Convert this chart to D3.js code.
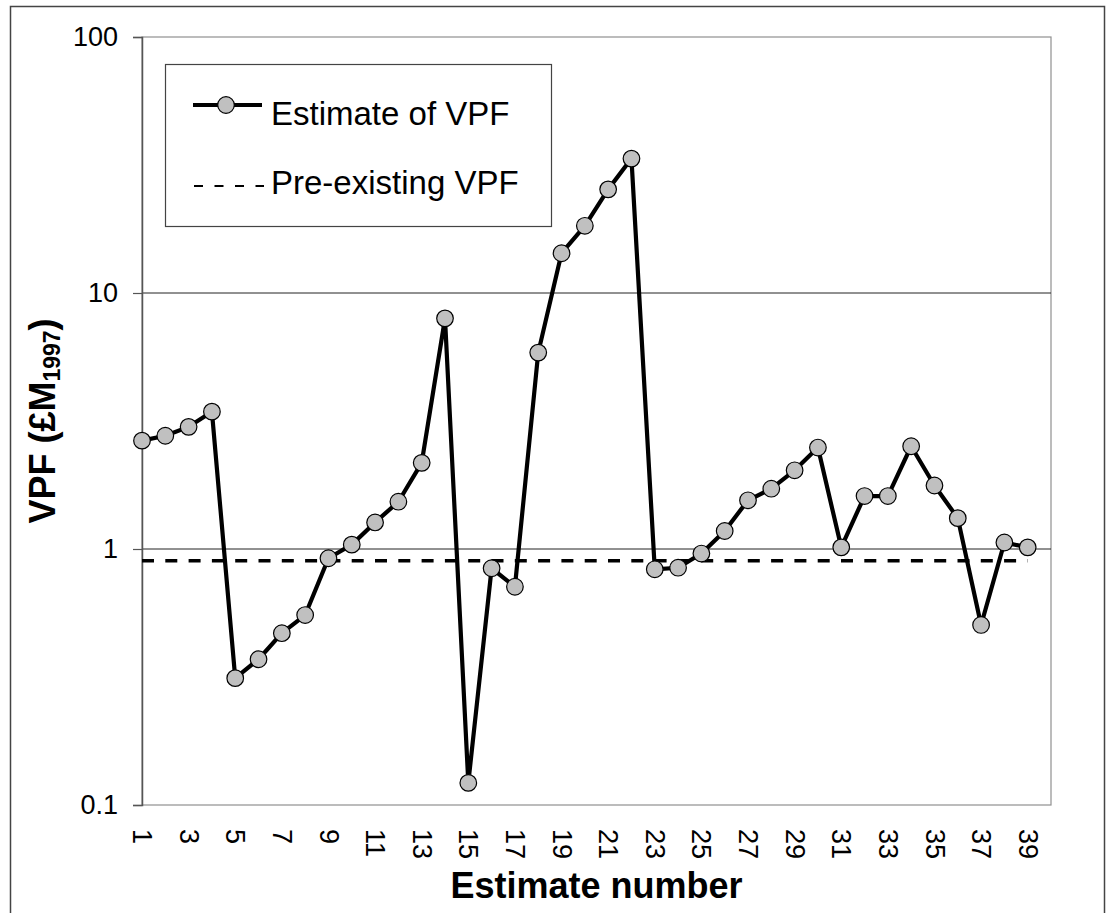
<!DOCTYPE html>
<html>
<head>
<meta charset="utf-8">
<script src="https://cdn.jsdelivr.net/npm/d3@7"></script>
<style>
  body { margin: 0; background: #fff; }
  svg { display: block; font-family: "Liberation Sans", Arial, sans-serif; }
</style>
</head>
<body>
<svg id="chart"></svg>
<script>
// estimate numbers 1..39 and their VPF values (£M 1997)
const estimateNumbers = d3.range(1, 40);
const vpfValues = [
  2.65, 2.77, 3.0, 3.44, 0.313, 0.371, 0.469, 0.552, 0.92, 1.04,
  1.27, 1.53, 2.17, 7.96, 0.122, 0.841, 0.712, 5.85, 14.3, 18.3,
  25.4, 33.5, 0.833, 0.845, 0.96, 1.176, 1.55, 1.72, 2.03, 2.49,
  1.015, 1.61, 1.61, 2.52, 1.77, 1.32, 0.505, 1.06, 1.015
];
const preExistingVpf = 0.9;
const yTicks = [0.1, 1, 10, 100];
const xTickLabels = estimateNumbers.filter(n => n % 2 === 1);
const gridValues = [1, 10];

const W = 1115, H = 913;
const plot = { left: 142, top: 37, right: 1051, bottom: 805 };

const svg = d3.select('#chart')
  .attr('width', W)
  .attr('height', H);

// outer chart border
svg.append('rect')
  .attr('x', 10.5).attr('y', 6.5)
  .attr('width', 1094).attr('height', 920)
  .attr('fill', 'none')
  .attr('stroke', '#444')
  .attr('stroke-width', 1.5);

// scales
const x = d3.scaleLinear()
  .domain([1, estimateNumbers.length + 1])
  .range([plot.left, plot.right]);

const y = d3.scaleLog()
  .domain([0.1, 100])
  .range([plot.bottom, plot.top]);

// plot frame
svg.append('rect')
  .attr('x', plot.left).attr('y', plot.top)
  .attr('width', plot.right - plot.left)
  .attr('height', plot.bottom - plot.top)
  .attr('fill', 'none')
  .attr('stroke', '#909090')
  .attr('stroke-width', 1.2);

// gridlines
svg.append('g')
  .selectAll('line')
  .data(gridValues)
  .enter()
  .append('line')
  .attr('x1', plot.left).attr('x2', plot.right)
  .attr('y1', d => y(d)).attr('y2', d => y(d))
  .attr('stroke', '#222')
  .attr('stroke-width', 1);

// y axis
const yAxis = svg.append('g')
  .attr('transform', `translate(${plot.left},0)`)
  .call(d3.axisLeft(y).tickValues(yTicks).tickFormat(d3.format('')).tickSize(9).tickPadding(15));
yAxis.select('.domain').attr('stroke', '#555').attr('stroke-width', 1.5);
yAxis.selectAll('.tick line').attr('stroke', '#555').attr('stroke-width', 1.2);
yAxis.selectAll('.tick text')
  .attr('font-size', 27)
  .attr('font-family', '"Liberation Sans", Arial, sans-serif')
  .attr('fill', '#000');

// x axis labels (rotated)
const xAxis = svg.append('g')
  .attr('transform', `translate(0,${plot.bottom})`)
  .call(d3.axisBottom(x).tickValues(xTickLabels).tickSize(0).tickPadding(0));
xAxis.select('.domain').remove();
xAxis.selectAll('.tick text')
  .attr('font-size', 27)
  .attr('font-family', '"Liberation Sans", Arial, sans-serif')
  .attr('fill', '#000')
  .attr('text-anchor', 'start')
  .attr('transform', 'translate(0,24) rotate(90)')
  .attr('x', 0)
  .attr('y', 0)
  .attr('dy', '0.35em');

// pre-existing VPF dashed line
svg.append('line')
  .attr('x1', x(1)).attr('x2', x(39))
  .attr('y1', y(preExistingVpf)).attr('y2', y(preExistingVpf))
  .attr('stroke', '#000')
  .attr('stroke-width', 3.5)
  .attr('stroke-dasharray', '12,11.3');

// estimate line
const data = estimateNumbers.map((n, i) => ({ n, v: vpfValues[i] }));
svg.append('path')
  .datum(data)
  .attr('fill', 'none')
  .attr('stroke', '#000')
  .attr('stroke-width', 4.2)
  .attr('stroke-linejoin', 'round')
  .attr('d', d3.line().x(d => x(d.n)).y(d => y(d.v)));

svg.append('g')
  .selectAll('circle')
  .data(data)
  .enter()
  .append('circle')
  .attr('cx', d => x(d.n))
  .attr('cy', d => y(d.v))
  .attr('r', 8.3)
  .attr('fill', '#c0c0c0')
  .attr('stroke', '#000')
  .attr('stroke-width', 1.2);

// legend
const legend = svg.append('g');
legend.append('rect')
  .attr('x', 165.5).attr('y', 64.5)
  .attr('width', 386).attr('height', 162)
  .attr('fill', '#fff')
  .attr('stroke', '#444')
  .attr('stroke-width', 1.2);
legend.append('line')
  .attr('x1', 193).attr('x2', 262)
  .attr('y1', 105).attr('y2', 105)
  .attr('stroke', '#000').attr('stroke-width', 4.2);
legend.append('circle')
  .attr('cx', 226).attr('cy', 105).attr('r', 8.3)
  .attr('fill', '#c0c0c0').attr('stroke', '#000').attr('stroke-width', 1.2);
legend.append('text')
  .attr('x', 271).attr('y', 125)
  .attr('font-size', 33)
  .text('Estimate of VPF');
legend.append('line')
  .attr('x1', 194).attr('x2', 264)
  .attr('y1', 186).attr('y2', 186)
  .attr('stroke', '#000').attr('stroke-width', 2.2)
  .attr('stroke-dasharray', '9,11.5');
legend.append('text')
  .attr('x', 271).attr('y', 194)
  .attr('font-size', 33)
  .text('Pre-existing VPF');

// axis titles
svg.append('text')
  .attr('x', (plot.left + plot.right) / 2)
  .attr('y', 898)
  .attr('text-anchor', 'middle')
  .attr('font-size', 36)
  .attr('font-weight', 'bold')
  .text('Estimate number');

const yTitle = svg.append('text')
  .attr('transform', `translate(55,${(plot.top + plot.bottom) / 2}) rotate(-90)`)
  .attr('text-anchor', 'middle')
  .attr('font-size', 36)
  .attr('font-weight', 'bold');
yTitle.append('tspan').text('VPF (£M');
yTitle.append('tspan').attr('font-size', 23).attr('dy', 5).text('1997');
yTitle.append('tspan').attr('dy', -5).text(')');
</script>
</body>
</html>
